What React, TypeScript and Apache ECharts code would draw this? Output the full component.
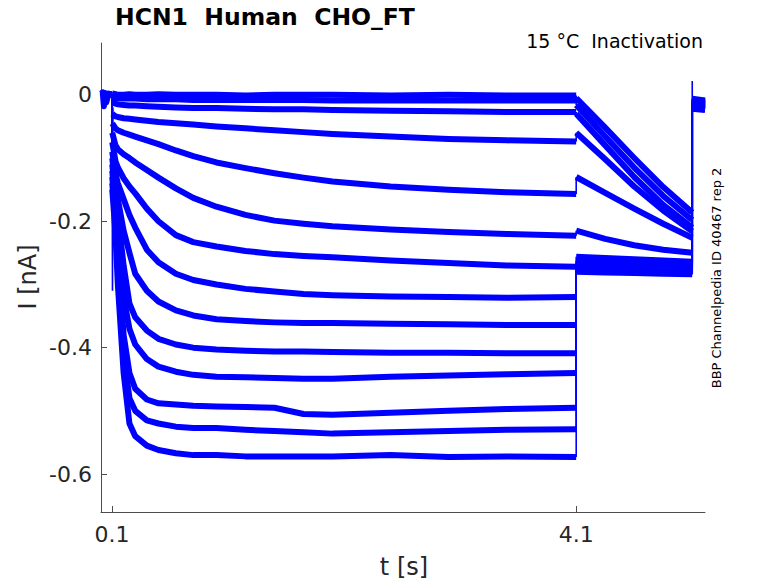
import React, { useEffect, useRef } from "react";
import * as echarts from "echarts";

// Axis ticks
const xTicks = [0.1, 4.1];
const yTicks = [-0.6, -0.4, -0.2, 0];

// Time bases (s)
const baseTimes = [0.005, 0.1];
const stepTimes = [0.102, 0.13, 0.15, 0.2, 0.25, 0.3, 0.4, 0.5, 0.65, 0.8, 1.0, 1.25, 1.5, 1.75, 2.0, 2.5, 3.0, 3.5, 4.1];
const tailTimes = [4.1, 4.35, 4.6, 4.85, 5.1];
const postTimes = [5.1, 5.21];

// Currents (nA) during the conditioning steps, one row per sweep
const stepCurrents = [
  [0.002, 0.001, 0.0, 0.0, 0.001, 0.0, 0.0, 0.001, 0.0, 0.0, 0.0, -0.001, 0.0, 0.0, 0.0, -0.001, 0.0, -0.001, -0.001],
  [-0.004, -0.005, -0.005, -0.006, -0.006, -0.006, -0.007, -0.007, -0.007, -0.008, -0.008, -0.008, -0.008, -0.008, -0.009, -0.009, -0.009, -0.009, -0.009],
  [-0.012, -0.014, -0.015, -0.016, -0.017, -0.017, -0.018, -0.019, -0.02, -0.021, -0.021, -0.022, -0.023, -0.023, -0.024, -0.025, -0.026, -0.027, -0.027],
  [-0.03, -0.034, -0.035, -0.037, -0.038, -0.039, -0.041, -0.043, -0.045, -0.047, -0.05, -0.053, -0.056, -0.059, -0.062, -0.066, -0.07, -0.072, -0.074],
  [-0.045, -0.053, -0.056, -0.06, -0.063, -0.066, -0.072, -0.078, -0.088, -0.097, -0.107, -0.116, -0.124, -0.131, -0.137, -0.145, -0.15, -0.154, -0.157],
  [-0.06, -0.08, -0.086, -0.094, -0.1, -0.107, -0.119, -0.131, -0.148, -0.163, -0.177, -0.19, -0.199, -0.204, -0.208, -0.213, -0.217, -0.22, -0.223],
  [-0.075, -0.105, -0.115, -0.132, -0.145, -0.156, -0.18, -0.2, -0.222, -0.233, -0.24, -0.247, -0.252, -0.255, -0.257, -0.262, -0.266, -0.27, -0.272],
  [-0.09, -0.125, -0.14, -0.165, -0.19, -0.21, -0.245, -0.265, -0.283, -0.293, -0.3, -0.307, -0.311, -0.315, -0.317, -0.319, -0.32, -0.321, -0.32],
  [-0.1, -0.145, -0.165, -0.215, -0.25, -0.283, -0.31, -0.327, -0.341, -0.349, -0.355, -0.358, -0.36, -0.361, -0.361, -0.362, -0.363, -0.364, -0.364],
  [-0.11, -0.16, -0.19, -0.27, -0.33, -0.352, -0.373, -0.386, -0.395, -0.4, -0.403, -0.405, -0.406, -0.406, -0.407, -0.408, -0.408, -0.409, -0.409],
  [-0.12, -0.18, -0.22, -0.32, -0.37, -0.395, -0.418, -0.43, -0.438, -0.443, -0.446, -0.447, -0.448, -0.449, -0.449, -0.446, -0.444, -0.442, -0.44],
  [-0.13, -0.19, -0.25, -0.38, -0.44, -0.465, -0.482, -0.488, -0.49, -0.492, -0.493, -0.494, -0.495, -0.505, -0.506, -0.503, -0.5, -0.497, -0.495],
  [-0.14, -0.2, -0.27, -0.41, -0.48, -0.5, -0.515, -0.52, -0.525, -0.527, -0.527, -0.53, -0.532, -0.534, -0.536, -0.534, -0.532, -0.53, -0.529],
  [-0.15, -0.22, -0.3, -0.44, -0.52, -0.54, -0.555, -0.562, -0.567, -0.57, -0.57, -0.572, -0.572, -0.572, -0.572, -0.57, -0.573, -0.572, -0.573],
];

// Currents (nA) during the test pulse
const tailCurrents = [
  [-0.005, -0.052, -0.1, -0.146, -0.186],
  [-0.016, -0.066, -0.115, -0.16, -0.198],
  [-0.03, -0.08, -0.13, -0.174, -0.21],
  [-0.06, -0.102, -0.145, -0.183, -0.216],
  [-0.13, -0.155, -0.18, -0.204, -0.226],
  [-0.215, -0.228, -0.238, -0.245, -0.25],
  [-0.256, -0.258, -0.26, -0.262, -0.264],
  [-0.262, -0.263, -0.264, -0.265, -0.266],
  [-0.265, -0.266, -0.267, -0.268, -0.269],
  [-0.268, -0.269, -0.27, -0.271, -0.272],
  [-0.271, -0.272, -0.273, -0.274, -0.275],
  [-0.274, -0.275, -0.276, -0.277, -0.278],
  [-0.277, -0.278, -0.279, -0.28, -0.281],
  [-0.28, -0.281, -0.282, -0.283, -0.284],
];

// Currents (nA) after return to holding
const postCurrents = [
  [-0.006, -0.009],
  [-0.008, -0.011],
  [-0.01, -0.013],
  [-0.012, -0.014],
  [-0.013, -0.015],
  [-0.014, -0.016],
  [-0.015, -0.017],
  [-0.016, -0.018],
  [-0.017, -0.019],
  [-0.018, -0.02],
  [-0.019, -0.021],
  [-0.02, -0.022],
  [-0.021, -0.023],
  [-0.022, -0.024],
];

// Capacitive transients
const onsetTransientTimes = [0.1, 0.104, 0.108];
const onsetTransientCurrents = [0, -0.31, -0.02];
const offsetTransientTimes = [5.1, 5.1];
const offsetTransientCurrents = [-0.2, 0.022];
const baselineDipTimes = [0.005, 0.02, 0.03, 0.04, 0.05, 0.07, 0.1];
const baselineDipCurrents = [0.002, 0.004, -0.018, 0.003, -0.012, 0.002, 0];

const BLUE = "#0000ff";
const FONT = "DejaVu Sans";

function zip(ts: number[], vs: number[]) {
  return ts.map((t, i) => [t, vs[i]]);
}

export default function App() {
  const ref = useRef<HTMLDivElement>(null);

  useEffect(() => {
    if (!ref.current) return;
    const chart = echarts.init(ref.current, undefined, { renderer: "svg" });

    const thick = (data: number[][]) => ({
      type: "line",
      data,
      symbol: "none",
      silent: true,
      lineStyle: { color: BLUE, width: 6, join: "round", cap: "butt" },
    });
    const thin = (data: number[][]) => ({
      type: "line",
      data,
      symbol: "none",
      silent: true,
      lineStyle: { color: BLUE, width: 1.6 },
    });

    const series: any[] = [];
    stepCurrents.forEach((step, k) => {
      const tail = tailCurrents[k];
      const post = postCurrents[k];
      series.push(thick(baseTimes.map((t) => [t, 0])));
      series.push(thin([[baseTimes[1], 0], [stepTimes[0], step[0]]]));
      series.push(thick(zip(stepTimes, step)));
      series.push(thin([[tailTimes[0], step[step.length - 1]], [tailTimes[0], tail[0]]]));
      series.push(thick(zip(tailTimes, tail)));
      series.push(thin([[postTimes[0], tail[tail.length - 1]], [postTimes[0], post[0]]]));
      series.push(thick(zip(postTimes, post)));
    });
    series.push(thin(zip(onsetTransientTimes, onsetTransientCurrents)));
    series.push(thin(zip(offsetTransientTimes, offsetTransientCurrents)));
    series.push(thick(zip(baselineDipTimes, baselineDipCurrents)));

    const axisLineColor = "#4d4d4d";
    chart.setOption({
      animation: false,
      grid: { left: 101, right: 73, top: 43, bottom: 71, containLabel: false },
      xAxis: {
        type: "value",
        min: 0.005,
        max: 5.21,
        axisLine: { show: true, onZero: false, lineStyle: { color: axisLineColor, width: 1 } },
        axisTick: { show: true, inside: true, length: 6, customValues: xTicks, lineStyle: { color: axisLineColor } },
        axisLabel: {
          customValues: xTicks,
          color: "#262626",
          fontFamily: FONT,
          fontSize: 22,
          margin: 11,
          formatter: (v: number) => String(v),
        },
        splitLine: { show: false },
      },
      yAxis: {
        type: "value",
        min: -0.66,
        max: 0.082,
        axisLine: { show: true, onZero: false, lineStyle: { color: axisLineColor, width: 1 } },
        axisTick: { show: true, inside: true, length: 6, customValues: yTicks, lineStyle: { color: axisLineColor } },
        axisLabel: {
          customValues: yTicks,
          color: "#262626",
          fontFamily: FONT,
          fontSize: 22,
          margin: 9,
          formatter: (v: number) => (v === 0 ? "0" : String(v)),
        },
        splitLine: { show: false },
      },
      graphic: [
        {
          type: "text",
          left: 115,
          top: 5,
          style: { text: "HCN1  Human  CHO_FT", font: `bold 23.5px "${FONT}"`, fill: "#000" },
        },
        {
          type: "text",
          x: 703,
          y: 41,
          style: { text: "15 °C  Inactivation", font: `19px "${FONT}"`, fill: "#000", textAlign: "right", textVerticalAlign: "middle" },
        },
        {
          type: "text",
          x: 28,
          y: 277,
          rotation: Math.PI / 2,
          style: { text: "I [nA]", font: `24px "${FONT}"`, fill: "#262626", textAlign: "center", textVerticalAlign: "middle" },
        },
        {
          type: "text",
          x: 404,
          y: 567,
          style: { text: "t [s]", font: `24px "${FONT}"`, fill: "#262626", textAlign: "center", textVerticalAlign: "middle" },
        },
        {
          type: "text",
          x: 716,
          y: 278,
          rotation: Math.PI / 2,
          style: { text: "BBP Channelpedia ID 40467 rep 2", font: `13px "${FONT}"`, fill: "#000", textAlign: "center", textVerticalAlign: "middle" },
        },
      ],
      series,
    });

    return () => chart.dispose();
  }, []);

  return (
    <div
      ref={ref}
      style={{ position: "fixed", left: 0, top: 0, width: 778, height: 583, background: "#fff" }}
    />
  );
}
